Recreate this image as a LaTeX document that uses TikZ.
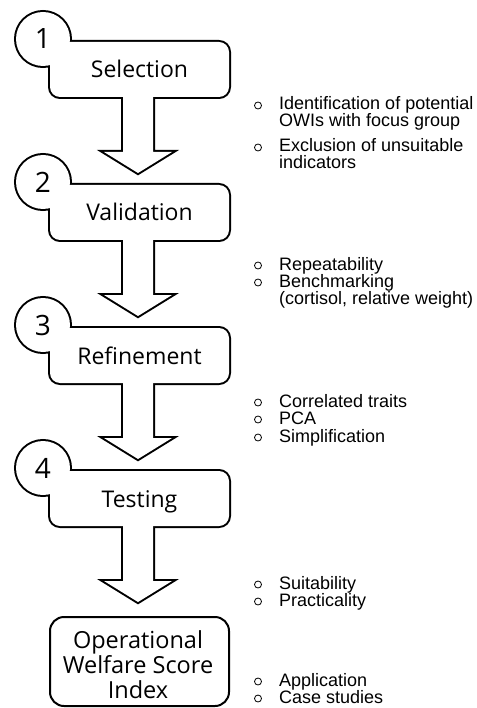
\documentclass[tikz,border=0pt]{standalone}
\usepackage{fontspec}
\setmainfont{Liberation Sans}
\newfontfamily\segfont{Open Sans}
\newcommand\stepshape[1]{%
  \draw[outl] (43,{#1-3}) circle (27pt);
  \draw[outl, rounded corners=10pt] (50,#1) rectangle (229,{#1+55});
  \draw[outl] (123,{#1+50}) -- (123,{#1+110}) -- (104,{#1+110}) -- (138,{#1+131}) -- (172,{#1+110}) -- (153,{#1+110}) -- (153,{#1+50}) -- cycle;
  \fill[white] (43,{#1-3}) circle (27pt);
  \fill[white, rounded corners=10pt] (50,#1) rectangle (229,{#1+55});
  \fill[white] (123,{#1+50}) -- (123,{#1+110}) -- (104,{#1+110}) -- (138,{#1+131}) -- (172,{#1+110}) -- (153,{#1+110}) -- (153,{#1+50}) -- cycle;
}
\begin{document}
\begin{tikzpicture}[x=1pt,y=-1pt,
  outl/.style={line width=4pt, line join=miter, draw=black},
  num/.style={font=\segfont\fontsize{28}{30}\selectfont, inner sep=0pt},
  lab/.style={font=\segfont\fontsize{23}{26}\selectfont, inner sep=0pt, anchor=base},
  itm/.style={font=\fontsize{18}{17}\selectfont, inner sep=0pt, anchor=base west},
  bul/.style={circle, draw=black, line width=0.8pt, minimum size=7pt, inner sep=0pt}]
\useasboundingbox (0,0) rectangle (476,708);
\fill[white] (0,0) rectangle (476,708);

\stepshape{42}
\stepshape{185}
\stepshape{328}
\stepshape{471}
\draw[line width=2pt, rounded corners=14pt] (50,617) rectangle (229,706);

\node[num] (n1) at (43,39) {1};
\node[num] (n2) at (43,182) {2};
\node[num] (n3) at (43,325) {3};
\node[num] (n4) at (43,468) {4};

\node[lab] (s1) at (139.5,78) {Selection};
\node[lab] (s2) at (139.5,221) {Validation};
\node[lab] (s3) at (139.5,364) {Refinement};
\node[lab] (s4) at (139.5,507) {Testing};
\node[font=\segfont\fontsize{23.5}{25}\selectfont, align=center, inner sep=0pt] (owsi) at (138,665) {Operational\\Welfare Score\\Index};

% right side items
\node[itm] (a1) at (279,110) {Identification of potential};
\node[itm] (a2) at (279,127) {OWIs with focus group};
\node[itm] (a3) at (279,152) {Exclusion of unsuitable};
\node[itm] (a4) at (279,169) {indicators};
\node[itm] (b1) at (279,270) {Repeatability};
\node[itm] (b2) at (279,287) {Benchmarking};
\node[itm] (b3) at (279,304) {(cortisol, relative weight)};
\node[itm] (c1) at (279,407) {Correlated traits};
\node[itm] (c2) at (279,424) {PCA};
\node[itm] (c3) at (279,442) {Simplification};
\node[itm] (d1) at (279,589) {Suitability};
\node[itm] (d2) at (279,606) {Practicality};
\node[itm] (e1) at (279,686) {Application};
\node[itm] (e2) at (279,703) {Case studies};

\foreach \yy [count=\k] in {110,152,270,287,407,424,442,589,606,686,703}
  \node[bul] (bu\k) at (258,{\yy-4.5}) {};
\end{tikzpicture}
\end{document}
